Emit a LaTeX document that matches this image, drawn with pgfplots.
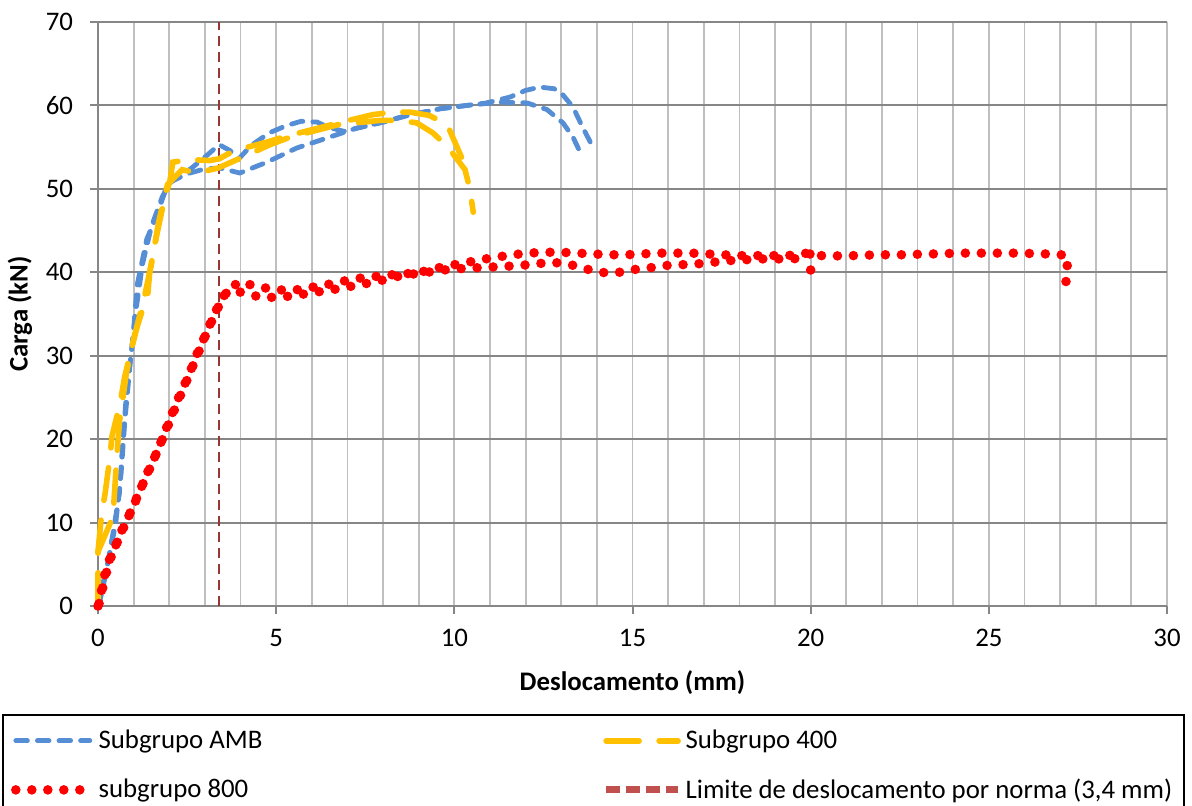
\documentclass[border=0pt]{standalone}
\usepackage{fontspec}
\setmainfont{Carlito}
\usepackage{pgfplots}
\pgfplotsset{compat=1.18}
\definecolor{cblue}{RGB}{85,142,213}
\definecolor{cyel}{RGB}{255,192,0}
\definecolor{cred}{RGB}{255,0,0}
\definecolor{climit}{RGB}{149,55,53}
\definecolor{climitleg}{RGB}{192,80,77}
\definecolor{gridmaj}{RGB}{134,134,134}
\definecolor{gridmin}{RGB}{191,191,191}
\pgfplotsset{
  sblue/.style={draw=cblue, line width=2.4pt, line cap=round, dash pattern=on 5.8pt off 5pt},
  syel/.style={draw=cyel, line width=2.8pt, line cap=round, dash pattern=on 16.5pt off 10pt},
  sred/.style={draw=cred, line width=4.8pt, line cap=round, dash pattern=on 0pt off 8pt},
  slim/.style={draw=climit, line width=1.2pt, dash pattern=on 5pt off 3pt},
  leglen/.style={legend image code/.code={\draw[##1] (0pt,0pt) -- (#1,0pt);}},
}
\begin{document}
\begin{tikzpicture}
\useasboundingbox (-49pt,-100pt) rectangle (547pt,303pt);
\begin{axis}[
  at={(0,0)}, anchor=south west,
  scale only axis, width=534.5pt, height=292pt,
  xmin=0, xmax=30, ymin=0, ymax=70,
  xtick={0,5,...,30}, ytick={0,10,...,70},
  minor x tick num=4,
  axis lines=left,
  axis line style={-, draw=gridmaj, line width=1pt},
  xmajorgrids, xminorgrids, ymajorgrids,
  x grid style={draw=gridmin, line width=0.9pt},
  minor x grid style={draw=gridmin, line width=0.9pt},
  y grid style={draw=gridmaj, line width=1pt},
  tick align=outside,
  major tick length=4pt, minor tick length=0pt,
  tick style={draw=gridmaj, line width=1pt},
  clip=false,
  ticklabel style={font=\fontsize{13.4}{16}\selectfont},
  xticklabel style={yshift=-4pt},
  yticklabel style={xshift=-5pt},
  /pgf/number format/assume math mode=true,
  xlabel={\textbf{Deslocamento (mm)}},
  ylabel={\textbf{Carga (kN)}},
  label style={font=\fontsize{13.4}{16}\selectfont},
  xlabel style={at={(axis description cs:0.5,-0.1318)}, anchor=center},
  ylabel style={at={(axis description cs:-0.0730,0.5)}, anchor=center},
  legend columns=2,
  legend cell align=left,
  legend style={at={(axis description cs:-0.0898,-0.1849)}, anchor=north west,
    draw=black, line width=1pt, font=\fontsize{13.4}{16}\selectfont,
    inner xsep=4pt, inner ysep=5.5pt, row sep=9.5pt},
]
% limit line
\addplot[slim, forget plot] coordinates {(3.4,0) (3.4,70)};
% AMB
\addplot[sblue, forget plot] coordinates {
(0,0) (0.06,0.7) (0.2,3.5) (0.42,8.7) (0.6,13.5) (0.7,20) (0.8,25.5) (0.98,32) (1.1,38.5) (1.37,44) (1.65,46.8) (1.93,50.3) (2.2,51.4) (2.6,52.4) (3.0,53.8) (3.4,55.3) (3.7,54.6) (3.95,53.6) (4.3,55.2) (4.8,56.7) (5.3,57.6) (5.7,58.1) (6.15,58.0) (6.45,57.4) (6.9,56.9) (7.3,57.3) (8.0,58.0) (8.7,58.8) (9.6,59.6) (10.9,60.3) (11.56,61.0) (12.0,61.8) (12.4,62.2) (12.8,62.0) (13.0,61.5) (13.33,59.8) (13.6,57.4) (13.9,54.9)};
\addplot[sblue, forget plot] coordinates {
(0,0) (0.1,2) (0.3,5.5) (0.5,10) (0.65,16) (0.75,22) (0.9,29) (1.05,35) (1.25,41) (1.5,45.5) (1.8,49) (2.02,50.8) (2.5,51.8) (3.0,52.4) (3.42,52.5) (3.98,51.9) (4.74,53.2) (5.58,54.9) (6.43,56.1) (7.27,57.3) (8.0,58.0) (8.67,58.8) (9.6,59.6) (10.36,60.0) (11.28,60.4) (12.04,60.3) (12.6,59.5) (13.05,57.9) (13.33,56.2) (13.53,54.4)};
% 400
\addplot[syel, forget plot] coordinates {
(0,0) (0,6.5) (0.1,11) (0.2,13.5) (0.34,18) (0.39,20.3) (0.62,24.3) (0.75,27.5) (0.95,31) (1.1,33.5) (1.4,37.5) (1.45,40) (1.65,44.5) (1.85,48.5) (2.02,51) (2.1,53.2) (2.58,53.5) (3.14,53.4) (3.4,53.6) (3.7,54.3) (4.2,55.0) (4.74,55.6) (5.19,56.2) (6.29,57.4) (6.74,57.9) (7.72,58.9) (8.28,59.2) (8.76,59.2) (9.3,58.8) (9.8,57.7) (10.2,53.8)};
\addplot[syel, forget plot] coordinates {
(0,0) (0,6.5) (0.42,10.7) (0.53,18) (0.6,22) (0.8,28) (1.0,32) (1.3,37) (1.5,41) (1.7,46) (1.95,50.5) (2.36,52.3) (2.78,51.9) (3.37,52.5) (3.9,53.5) (4.83,55.3) (5.39,56.2) (6.3,57.2) (6.74,57.7) (7.9,58.2) (8.48,58.2) (8.95,57.9) (9.4,56.7) (9.82,55.0) (10.3,52.3) (10.44,49.9) (10.53,47.2)};
% 800
\addplot[sred, forget plot] coordinates {
(0,0) (0.1,1.9) (0.2,3.9) (0.34,5.8) (0.53,7.6) (0.7,9.4) (0.9,11.1) (1.09,12.9) (1.26,14.7) (1.43,16.4) (1.63,18.2) (1.8,20) (1.96,21.8) (2.13,23.6) (2.3,25.4) (2.5,27.2) (2.67,29) (2.83,30.8) (3.03,32.6) (3.2,34.4) (3.4,36.2) (3.62,37.8) (3.98,38.9) (4.43,38.3) (4.88,38.0) (5.33,37.8) (5.78,38.0) (6.23,38.4) (6.68,38.7) (7.13,39.2) (7.58,39.4) (8.0,39.6) (8.48,39.8) (8.95,39.9) (9.4,40.4) (9.85,40.8) (10.27,41.1) (10.72,41.5) (11.17,41.8) (11.62,42.1) (12.1,42.3) (12.52,42.4) (13.0,42.4) (13.44,42.3) (13.9,42.2) (14.34,42.1) (14.82,42.1) (15.27,42.2) (15.72,42.3) (16.17,42.3) (16.64,42.3) (17.1,42.2) (17.54,42.1) (17.99,42.0) (18.47,42.0) (18.92,42.0) (19.37,42.0) (19.81,42.3) (20.46,41.9) (20.88,42.0) (21.36,42.0) (21.81,42.1) (22.26,42.1) (22.71,42.1) (23.18,42.2) (23.63,42.2) (24.08,42.3) (24.53,42.3) (25.0,42.3) (25.46,42.3) (25.93,42.3) (26.38,42.2) (26.83,42.2) (27.2,42.0) (27.2,40.0) (27.14,38.1)};
\addplot[sred, forget plot] coordinates {
(0.03,0.3) (0.14,2.3) (0.26,4.4) (0.4,6.3) (0.6,8.2) (0.78,10.0) (0.97,11.8) (1.15,13.6) (1.33,15.3) (1.52,17.1) (1.7,18.9) (1.88,20.7) (2.05,22.5) (2.22,24.3) (2.4,26.1) (2.58,27.9) (2.75,29.7) (2.93,31.5) (3.1,33.3) (3.3,35.1) (3.5,37.0) (3.68,37.9) (4.13,37.5) (4.57,37.0) (5.05,37.0) (5.5,37.2) (5.93,37.5) (6.4,37.8) (6.85,38.1) (7.3,38.5) (7.75,38.8) (8.2,39.3) (8.62,39.7) (9.1,39.9) (9.54,40.2) (9.99,40.4) (10.44,40.5) (10.92,40.6) (11.37,40.7) (11.82,40.8) (12.27,41.0) (12.74,41.2) (13.19,41.0) (13.61,40.5) (14.06,40.0) (14.51,39.9) (14.98,40.3) (15.43,40.5) (15.88,40.8) (16.33,40.9) (16.81,41.0) (17.26,41.2) (17.71,41.4) (18.16,41.5) (18.61,41.6) (19.06,41.6) (19.53,41.6) (19.98,42.2) (20.0,40.4) (20.0,38.6)};
% legend
\addlegendimage{sblue, leglen=37pt}
\addlegendentry{\makebox[250pt][l]{Subgrupo AMB}}
\addlegendimage{syel, leglen=36pt}
\addlegendentry{Subgrupo 400}
\addlegendimage{sred, leglen=37pt}
\addlegendentry{\makebox[250pt][l]{subgrupo 800}}
\addlegendimage{draw=climitleg, line width=3.5pt, dash pattern=on 7pt off 3pt, leglen=36pt}
\addlegendentry{Limite de deslocamento por norma (3,4 mm)}
\end{axis}
\end{tikzpicture}
\end{document}
